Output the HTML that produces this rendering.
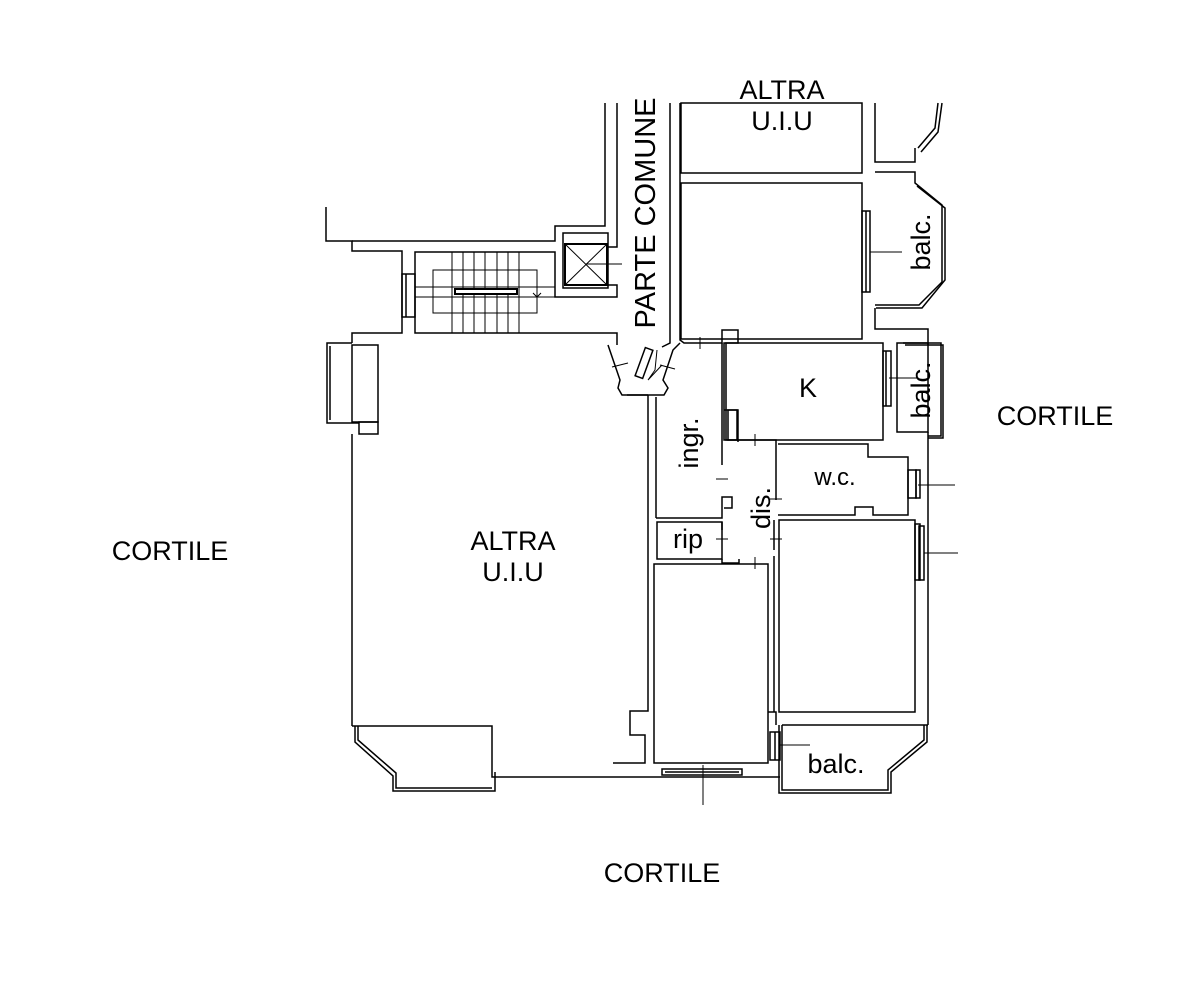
<!DOCTYPE html>
<html><head><meta charset="utf-8"><style>
html,body{margin:0;padding:0;background:#fff;}
svg{display:block;}
text{font-family:"Liberation Sans",sans-serif;fill:#000;}
</style></head><body>
<svg width="1199" height="983" viewBox="0 0 1199 983" xmlns="http://www.w3.org/2000/svg">
<g fill="none" stroke="#000" stroke-width="1.5">
<polyline points="326,207 326,241 352,241 352,251 402,251 402,333 352,333 352,343"/>
<polyline points="352,241 555,241 555,226 605,226 605,103"/>
<polyline points="617,103 617,247 608,247"/>
<polyline points="608,285 617,285 617,297 555,297 555,252 415,252 415,333 617,333 617,345"/>
<rect x="402" y="274" width="13" height="43"/>
<line x1="406" y1="274" x2="406" y2="317"/>
<g stroke-width="1">
<line x1="452" y1="252" x2="452" y2="333"/><line x1="463" y1="252" x2="463" y2="333"/>
<line x1="474" y1="252" x2="474" y2="333"/><line x1="485" y1="252" x2="485" y2="333"/>
<line x1="497" y1="252" x2="497" y2="333"/><line x1="508" y1="252" x2="508" y2="333"/>
<line x1="519" y1="252" x2="519" y2="333"/>
<rect x="433" y="270" width="104" height="43"/>
<line x1="415" y1="287" x2="555" y2="287"/><line x1="415" y1="297" x2="555" y2="297"/>
<line x1="537" y1="287" x2="537" y2="297"/><polyline points="533,293 537,297 541,293"/>
</g>
<rect x="455" y="289" width="62" height="5" fill="#fff" stroke-width="2"/>
<rect x="563" y="233" width="45" height="55"/>
<rect x="565" y="244" width="42" height="41" stroke-width="2"/>
<line x1="565" y1="244" x2="607" y2="285" stroke-width="1"/><line x1="607" y1="244" x2="565" y2="285" stroke-width="1"/>
<line x1="586" y1="264" x2="622" y2="264" stroke-width="1"/>
<polyline points="670,103 670,343 662,347"/>
<polyline points="680,103 680,340 684,343 722,343 722,330 738,330 738,343 724,343 724,440 776,440 776,444"/>
<polyline points="352,343 327,343 327,423 359,423"/>
<polyline points="330,346 330,420"/>
<rect x="352" y="345" width="26" height="77"/>
<rect x="359" y="422" width="19" height="12"/>
<line x1="352" y1="434" x2="352" y2="726"/>
<polyline points="352,726 492,726 492,777 780,777"/>
<polyline points="355,726 355,742 393,776 393,791 495,791 495,772"/>
<polyline points="358,726 358,740 396,773 396,788 492,788"/>
<polyline points="608,345 620,380 618,388 622,395 664,395 668,388 663,380 673,350 680,343"/>
<polyline points="627,395 648,395"/>
<rect x="640" y="348" width="8" height="30" transform="rotate(20 644 363)"/>
<polyline points="657,350 655,370 648,380 662,365" stroke-width="1"/>
<line x1="612" y1="367" x2="628" y2="363" stroke-width="1"/>
<line x1="660" y1="365" x2="675" y2="369" stroke-width="1"/>
<polyline points="648,395 648,504 648,711 630,711 630,735 645,735 645,763 613,763"/>
<line x1="656" y1="397" x2="656" y2="518"/>
<polyline points="656,518 722,518 722,497 732,497 732,508 724,508"/>
<line x1="722" y1="343" x2="722" y2="465"/>
<rect x="728" y="410" width="9" height="30"/>
<polyline points="724,410 738,410 738,442"/>
<rect x="657" y="522" width="65" height="37"/>
<polyline points="722,559 722,563 739,563 739,559"/>
<line x1="722" y1="522" x2="722" y2="530"/>
<rect x="726" y="343" width="157" height="97"/>
<rect x="883" y="351" width="8" height="55"/><line x1="886" y1="351" x2="886" y2="406"/>
<line x1="889" y1="378" x2="918" y2="378" stroke-width="1"/>
<rect x="897" y="343" width="31" height="89"/>
<polyline points="903,343 941,343 941,436 928,436"/><polyline points="905,345 943,345 943,438 928,438"/>
<rect x="681" y="103" width="181" height="70"/>
<rect x="681" y="183" width="181" height="156"/>
<polyline points="875,103 875,162 915,162 915,148"/>
<polyline points="875,172 915,172 915,183 942,205 942,282 919,305 875,305"/>
<polyline points="918,148 935,128 938,103"/><polyline points="921,152 938,132 942,103"/>
<polyline points="917,186 945,208 945,280 922,308 876,308"/>
<rect x="862" y="211" width="8" height="81"/><line x1="866" y1="211" x2="866" y2="292"/>
<line x1="870" y1="252" x2="902" y2="252" stroke-width="1"/>
<polyline points="875,308 875,329 928,329 928,345"/>
<polyline points="776,444 776,500"/>
<polyline points="778,444 868,444 868,457 908,457 908,515 873,515 873,507 855,507 855,515 778,515"/>
<rect x="908" y="470" width="8" height="28"/><rect x="916" y="470" width="4" height="28"/>
<line x1="918" y1="485" x2="955" y2="485" stroke-width="1"/>
<polyline points="928,432 928,725"/>
<rect x="779" y="520" width="136" height="192"/>
<rect x="915" y="524" width="5" height="56"/><rect x="919" y="526" width="5" height="54"/>
<line x1="924" y1="553" x2="958" y2="553" stroke-width="1"/>
<line x1="774" y1="520" x2="774" y2="550"/><line x1="774" y1="556" x2="774" y2="712"/>
<rect x="654" y="564" width="114" height="199"/>
<polyline points="768,712 776,712 776,725"/>
<rect x="662" y="769" width="80" height="6"/><line x1="665" y1="772" x2="739" y2="772"/>
<line x1="703" y1="765" x2="703" y2="805" stroke-width="1"/>
<rect x="770" y="732" width="10" height="28"/><line x1="775" y1="732" x2="775" y2="760"/>
<line x1="780" y1="745" x2="810" y2="745" stroke-width="1"/>
<polyline points="782,725 928,725"/>
<polyline points="782,725 782,790 888,790 888,770 924,740 924,725"/>
<polyline points="779,725 779,793 891,793 891,772 927,742 927,725"/>
</g>
<g stroke="#000" stroke-width="1">
<line x1="700" y1="337" x2="700" y2="349"/><line x1="755" y1="434" x2="755" y2="446"/>
<line x1="716" y1="479" x2="728" y2="479"/><line x1="770" y1="499" x2="782" y2="499"/>
<line x1="716" y1="539" x2="728" y2="539"/><line x1="770" y1="539" x2="782" y2="539"/>
<line x1="755" y1="557" x2="755" y2="569"/>
</g>
<g font-size="27">
<text x="782" y="99" text-anchor="middle">ALTRA</text>
<text x="782" y="130" text-anchor="middle">U.I.U</text>
<text x="513" y="550" text-anchor="middle">ALTRA</text>
<text x="513" y="581" text-anchor="middle">U.I.U</text>
<text x="170" y="560" text-anchor="middle">CORTILE</text>
<text x="1055" y="425" text-anchor="middle">CORTILE</text>
<text x="662" y="882" text-anchor="middle">CORTILE</text>
<text x="808" y="397" text-anchor="middle">K</text>
<text x="836" y="773" text-anchor="middle">balc.</text>
<text x="688" y="548" text-anchor="middle">rip</text>
<text x="835" y="485" text-anchor="middle" font-size="24">w.c.</text>
<text transform="translate(655,213) rotate(-90)" text-anchor="middle" font-size="29">PARTE COMUNE</text>
<text transform="translate(698,443) rotate(-90)" text-anchor="middle">ingr.</text>
<text transform="translate(770,508) rotate(-90)" text-anchor="middle">dis.</text>
<text transform="translate(930,242) rotate(-90)" text-anchor="middle">balc.</text>
<text transform="translate(930,390) rotate(-90)" text-anchor="middle">balc.</text>
</g>
</svg>
</body></html>
